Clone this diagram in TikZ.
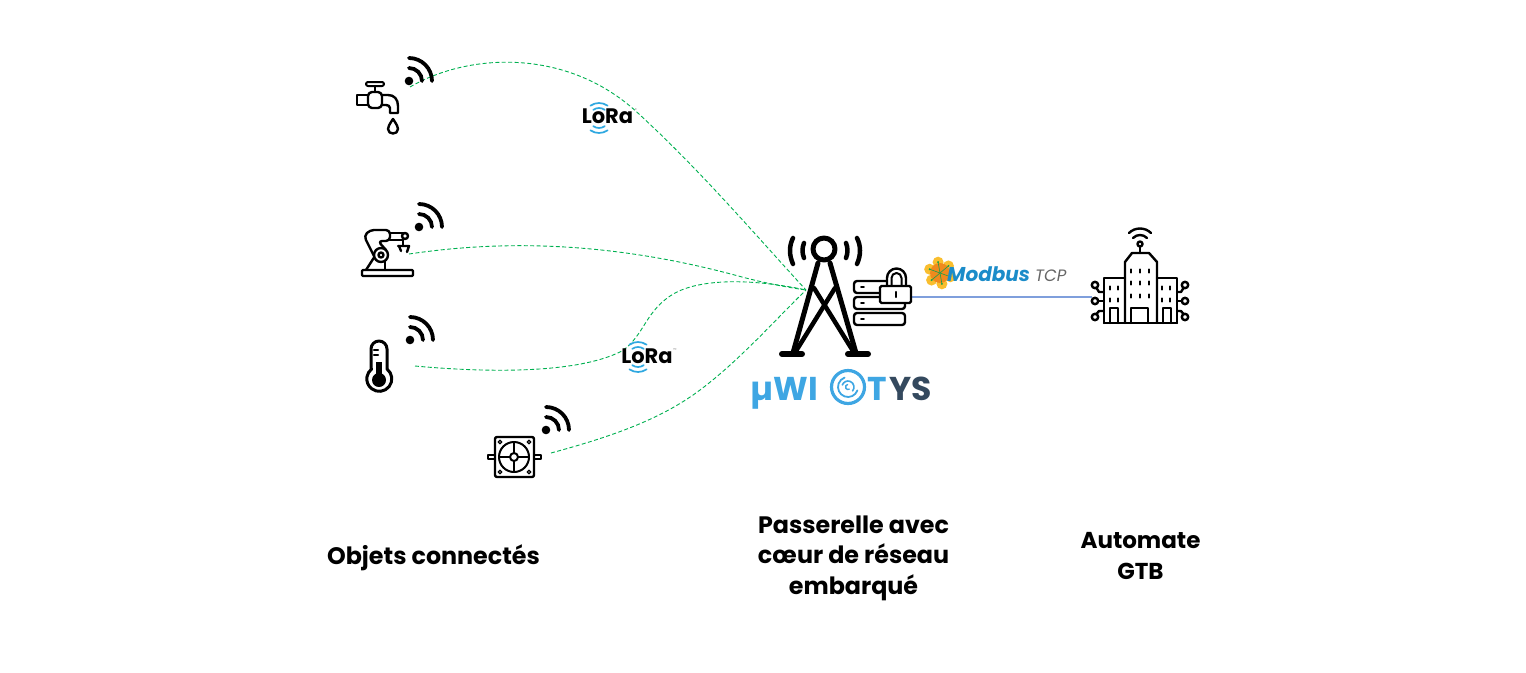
\documentclass[tikz,border=0pt]{standalone}
\usepackage{fontspec}
\setmainfont{Poppins}
\usetikzlibrary{positioning}
\definecolor{linkgreen}{HTML}{00B050}
\definecolor{linkblue}{HTML}{7F9FDC}
\definecolor{lorablue}{HTML}{2FA8E0}
\definecolor{wiotysblue}{HTML}{3EA6E3}
\definecolor{wiotysdark}{HTML}{34495E}
\definecolor{modbusblue}{HTML}{1B8CC9}
\definecolor{petal}{HTML}{F9BE2E}
\definecolor{petalcore}{HTML}{F08A1D}
\definecolor{netgreen}{HTML}{1E9E4A}
\tikzstyle{caption}=[font=\fontsize{23.8}{30.5}\selectfont\bfseries,align=center,inner sep=0pt]
\tikzstyle{link}=[draw=linkgreen,line width=0.9pt,dash pattern=on 4pt off 2.4pt]
\tikzstyle{icon}=[draw=black,line width=2.4pt,line join=round,line cap=round]
\tikzstyle{wave}=[draw=black,line width=3.8pt,line cap=round]
\tikzstyle{lorawave}=[draw=lorablue,line width=1.7pt,line cap=round]
\tikzstyle{loratext}=[font=\fontsize{21}{21}\selectfont\bfseries,inner sep=0pt]
\tikzstyle{logotext}=[font=\fontsize{33}{33}\selectfont\bfseries,inner sep=0pt,anchor=base west]
\begin{document}
\begin{tikzpicture}[x=1pt,y=-1pt]
    \useasboundingbox (0,0) rectangle (1526,672);

    % anchors of the links
    \coordinate (tapout) at (410,87);
    \coordinate (robotout) at (409,254);
    \coordinate (thermoout) at (415,366);
    \coordinate (fanout) at (551,453);
    \coordinate (hub) at (806,290);
    \coordinate (gwout) at (911,297);
    \coordinate (gtbin) at (1092,297);

    % green radio links
    \path[link] (tapout) .. controls (470,52) and (570,48) .. (640,115) .. controls (700,170) and (760,240) .. (hub);
    \path[link] (robotout) .. controls (490,242) and (600,238) .. (742,277) .. controls (765,283) and (785,287) .. (hub);
    \path[link] (thermoout) .. controls (480,372) and (575,375) .. (622,351) .. controls (645,335) and (645,310) .. (675,293) .. controls (705,277) and (760,280) .. (hub);
    \path[link] (fanout) .. controls (610,437) and (660,420) .. (700,390) .. controls (740,360) and (775,320) .. (hub);
    % wired link
    \path[draw=linkblue,line width=1.1pt] (gwout) -- (gtbin);

    % wifi signs
    \foreach \pos in {(409,81), (419,227), (410,340), (546,430)}
    {
        \fill[black] \pos circle (4.3);
        \path[wave] \pos ++(0,-13) arc (-90:0:13);
        \path[wave] \pos ++(0,-23) arc (-90:0:23);
    }

    % tap
    \path[icon,rounded corners=2pt,line width=2pt] (366,82) rectangle (384,86);
    \path[icon] (375,86) -- (375,92);
    \path[icon,fill=white] (357,95) rectangle (368,105);
    \path[icon,fill=white,rounded corners=4pt] (368,92) rectangle (382,108);
    \path[icon] (382,95) -- (388,95) .. controls (394,95) and (398,99) .. (398,106) -- (398,113) -- (390,113) -- (390,108) .. controls (390,106) and (388,105) .. (386,105) -- (382,105);
    \path[icon] (393,119) .. controls (389,125) and (388,127) .. (388,129) .. controls (388,135) and (398,135) .. (398,129) .. controls (398,127) and (397,125) .. (393,119) -- cycle;

    % robot arm
    \path[icon,rounded corners=1pt] (362,270) rectangle (413,276);
    \path[icon] (366,270) -- (375,256);
    \path[icon] (385,260) -- (385,270);
    \path[icon,rounded corners=4pt] (375,258) -- (364,236) -- (370,230) -- (390,230) -- (390,241) -- (378,241) -- (386,250);
    \path[icon] (390,233) -- (405,233);
    \path[icon] (390,240) -- (403,240);
    \path[icon] (405,236) circle (3);
    \path[icon] (403,240) -- (403,245);
    \path[icon] (398,246) -- (409,246) -- (407,252);
    \path[icon] (399,246) -- (401,251);
    \path[icon,fill=white] (381,255) circle (7);
    \path[icon] (381,255) circle (2.5);

    % thermometer
    \path[icon,line width=3pt] (371,369) -- (371,349) arc (180:360:8) -- (387,369) arc (-52:232:12.5) -- cycle;
    \fill[black] (379,380) circle (7);
    \fill[black] (376,362) rectangle (382,380);
    \path[icon] (374,350) -- (378,350);
    \path[icon] (374,355) -- (378,355);

    % fan
    \path[icon,line width=2pt] (488,455) rectangle (495,459);
    \path[icon,line width=2pt] (534,455) rectangle (541,459);
    \path[icon,rounded corners=2pt] (495,437) rectangle (534,477);
    \path[icon,line width=2pt] (514,457) circle (15);
    \path[icon,line width=2pt] (514,457) circle (4);
    \foreach \ang in {0,90,180,270}
        \path[icon,line width=1.5pt] (514,457) ++(\ang:4) -- ++(\ang:11);
    \foreach \pos in {(500,442),(529,442),(500,472),(529,472)}
        \path[icon,line width=1.3pt] \pos circle (1.8);

    % tower
    \path[icon,line width=5pt] (824,249) circle (11);
    \path[icon,line width=5pt] (818,263) -- (793,353);
    \path[icon,line width=5pt] (830,263) -- (856,353);
    \path[icon,line width=4.5pt] (814,288) -- (853,351);
    \path[icon,line width=4.5pt] (835,288) -- (796,351);
    \path[icon,line width=6pt] (782,354) -- (802,354);
    \path[icon,line width=6pt] (848,354) -- (868,354);
    \path[icon,line width=4.5pt] (793,238) .. controls (789,246) and (789,255) .. (793,264);
    \path[icon,line width=4.5pt] (804,243) .. controls (802,248) and (802,253) .. (804,258);
    \path[icon,line width=4.5pt] (846,243) .. controls (848,248) and (848,253) .. (846,258);
    \path[icon,line width=4.5pt] (857,238) .. controls (861,246) and (861,255) .. (857,264);

    % servers and padlock
    \foreach \y in {281,297,313}
    {
        \path[icon,fill=white,rounded corners=3pt] (854,\y) rectangle (905,\y+12);
        \path[icon,line width=1.6pt] (861,\y+6) -- (864,\y+6);
    }
    \path[icon,fill=white] (887,287) -- (887,278) arc (180:360:9.5) -- (906,287) -- cycle;
    \path[icon,fill=white,line width=2pt] (891.5,287) -- (891.5,278) arc (180:360:5) -- (901.5,287);
    \path[icon,fill=white,rounded corners=1.5pt] (880,286) rectangle (911,303);
    \path[icon] (896,292) -- (896,297);

    % uwiotys logo
    \node[logotext,text=wiotysblue] (uwi) at (750,400) {µWI};
    \path[draw=wiotysblue,line width=3.2pt] (848,387) circle (16.5);
    \path[draw=wiotysblue,line width=1.8pt,line cap=round] (848,387) ++(20:10) arc (20:250:10);
    \path[draw=wiotysblue,line width=1.6pt,line cap=round] (848,387) ++(200:6) arc (200:400:6);
    \path[draw=wiotysblue,line width=1.4pt,line cap=round] (848,387) ++(60:2.5) arc (60:260:2.5);
    \node[logotext,text=wiotysblue] (wt) at (867,400) {T};
    \node[logotext,text=wiotysdark] (wys) at (889,400) {YS};

    % lora badges
    \node[loratext,anchor=base] (loraa) at (607.5,123) {LoRa};
    \node[loratext,anchor=base] (lorab) at (647,363) {LoRa};
    \foreach \cx/\cy in {599/118,638/357}
    {
        \foreach \r in {10,15}
        {
            \path[lorawave] (\cx,\cy) ++(-125:\r) arc (-125:-55:\r);
            \path[lorawave] (\cx,\cy) ++(55:\r) arc (55:125:\r);
        }
    }
    \node[inner sep=0pt,text=black!50,font=\fontsize{4}{4}\selectfont] (tma) at (636,110) {®};
    \node[inner sep=0pt,text=black!50,font=\fontsize{4}{4}\selectfont] (tmb) at (675,350) {™};

    % modbus logo
    \foreach \ang in {0,60,...,300}
        \fill[petal] (940,273) ++(\ang+20:11) circle (5.5);
    \fill[petalcore] (940,273) circle (10);
    \foreach \ang in {20,80,...,320}
    {
        \path[draw=netgreen,line width=0.6pt] (940,273) -- ++(\ang:11);
        \fill[netgreen] (940,273) ++(\ang:11) circle (1.1);
    }
    \node[inner sep=0pt,anchor=base west,text=modbusblue,font=\fontsize{20}{20}\selectfont\bfseries\itshape] (modbus) at (947,281) {Modbus};
    \node[inner sep=0pt,anchor=base west,text=black!60,font=\fontsize{16.5}{16.5}\selectfont\itshape] (tcp) at (1035,281) {TCP};

    % building
    \path[icon] (1104,323) -- (1177,323);
    \path[icon] (1125,323) -- (1125,262) -- (1132,253) -- (1149,253) -- (1157,262) -- (1157,323);
    \path[icon] (1125,278) -- (1104,278) -- (1104,323);
    \path[icon] (1157,278) -- (1177,278) -- (1177,323);
    \path[icon] (1131,323) -- (1131,308) -- (1148,308) -- (1148,323);
    \path[icon] (1110,323) -- (1110,308) -- (1118,308) -- (1118,323);
    \path[icon] (1163,323) -- (1163,308) -- (1171,308) -- (1171,323);
    \foreach \x in {1131,1140,1149}
        \foreach \y in {271,283,296}
            \path[icon] (\x,\y-1.5) -- (\x,\y+1.5);
    \foreach \x in {1110,1118,1162,1170}
        \foreach \y in {288,300}
            \path[icon] (\x,\y-1.5) -- (\x,\y+1.5);
    \path[icon] (1140,253) -- (1140,247);
    \path[icon] (1140,244) circle (2.5);
    \path[icon] (1133,238) .. controls (1137,234) and (1143,234) .. (1147,238);
    \path[icon] (1129,233) .. controls (1135,227) and (1145,227) .. (1151,233);
    \foreach \y in {285,301,317}
    {
        \path[icon] (1095,\y) circle (3.2);
        \path[icon] (1185,\y) circle (3.2);
    }
    \path[icon] (1104,292) -- (1099,292) -- (1096.5,288);
    \path[icon] (1104,301) -- (1098,301);
    \path[icon] (1104,311) -- (1099,311) -- (1096.5,314);
    \path[icon] (1177,292) -- (1181,292) -- (1183.5,288);
    \path[icon] (1177,301) -- (1182,301);
    \path[icon] (1177,311) -- (1181,311) -- (1183.5,314);

    % captions
    \node[caption] (objets) at (433.5,558) {Objets connectés};
    \node[caption] (passerelle) at (853.5,558) {Passerelle avec\\cœur de réseau\\embarqué};
    \node[caption,font=\fontsize{23}{30.5}\selectfont\bfseries] (automate) at (1140.5,556) {Automate\\GTB};
\end{tikzpicture}
\end{document}
